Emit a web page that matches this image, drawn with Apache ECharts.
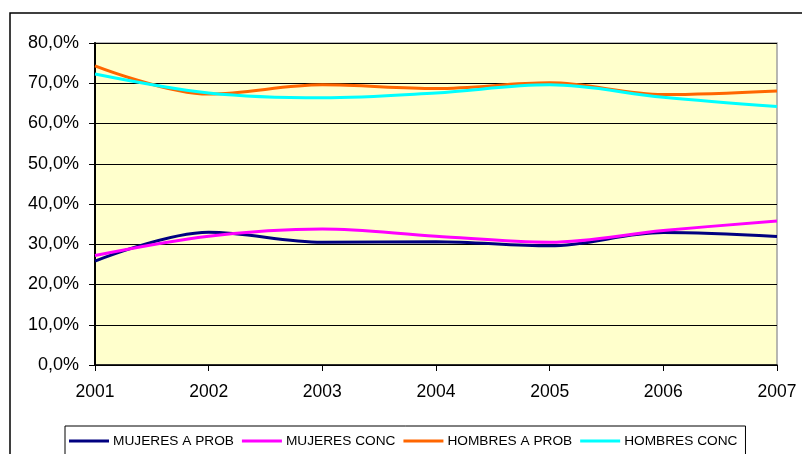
<!DOCTYPE html>
<html>
<head>
<meta charset="utf-8">
<title>Mujeres / Hombres</title>
<script src="https://cdn.jsdelivr.net/npm/echarts@6/dist/echarts.min.js"></script>
<style>
  html, body { margin: 0; padding: 0; background: #fff; }
  #chart { width: 802px; height: 454px; }
</style>
</head>
<body>
<div id="chart"></div>
<script>
// years on the x axis
var years = ['2001', '2002', '2003', '2004', '2005', '2006', '2007'];

// percentages
var mujeresAprob = [25.8, 33.0, 30.5, 30.6, 29.6, 32.9, 31.9];
var mujeresConc = [27.2, 32.0, 33.8, 32.0, 30.5, 33.4, 35.8];
var hombresAprob = [74.3, 67.3, 69.6, 68.7, 70.1, 67.2, 68.1];
var hombresConc = [72.3, 67.6, 66.4, 67.6, 69.6, 66.5, 64.2];

var names = ['MUJERES A PROB', 'MUJERES CONC', 'HOMBRES A PROB', 'HOMBRES CONC'];
var colors = ['#000080', '#FF00FF', '#FF6600', '#00FFFF'];

var font = '"Liberation Sans", Arial, sans-serif';

function lineSeries(name, data, color) {
  return {
    name: name,
    type: 'line',
    data: data,
    smooth: 0.35,
    showSymbol: false,
    symbol: 'none',
    lineStyle: { color: color, width: 3 },
    itemStyle: { color: color },
    animation: false
  };
}

var chart = echarts.init(document.getElementById('chart'));

chart.setOption({
  animation: false,
  backgroundColor: '#ffffff',
  color: colors,
  graphic: [{
    type: 'rect',
    shape: { x: 10, y: 13, width: 820, height: 470 },
    style: { fill: 'none', stroke: '#000', lineWidth: 1.5 },
    z: -1
  }],
  grid: {
    left: 95, top: 43, right: 25, bottom: 89,
    show: true,
    backgroundColor: '#FFFFCC',
    borderColor: '#a0a0a0',
    borderWidth: 1.5
  },
  legend: {
    data: names,
    left: 65,
    top: 426,
    padding: [8, 8, 30, 4],
    itemGap: 8,
    itemWidth: 40,
    itemHeight: 3,
    icon: 'rect',
    borderColor: '#000',
    borderWidth: 1,
    textStyle: { fontFamily: font, fontSize: 13.7, color: '#000', padding: [0, 0, 0, -1] }
  },
  xAxis: {
    type: 'category',
    data: years,
    boundaryGap: false,
    axisLine: { lineStyle: { color: '#000', width: 1.5 } },
    axisTick: { show: true, length: 6, lineStyle: { color: '#000' } },
    axisLabel: { margin: 18, fontFamily: font, fontSize: 17.5, color: '#000' },
    splitLine: { show: false }
  },
  yAxis: {
    type: 'value',
    min: 0,
    max: 80,
    interval: 10,
    axisLine: { show: true, lineStyle: { color: '#000', width: 2 } },
    axisTick: { show: true, length: 6, lineStyle: { color: '#000' } },
    axisLabel: {
      margin: 16,
      fontFamily: font,
      fontSize: 18,
      color: '#000',
      formatter: function (v) { return v.toFixed(1).replace('.', ',') + '%'; }
    },
    splitLine: { show: true, lineStyle: { color: '#000', width: 1 } }
  },
  series: [
    lineSeries(names[0], mujeresAprob, colors[0]),
    lineSeries(names[1], mujeresConc, colors[1]),
    lineSeries(names[2], hombresAprob, colors[2]),
    lineSeries(names[3], hombresConc, colors[3])
  ]
});
</script>
</body>
</html>
